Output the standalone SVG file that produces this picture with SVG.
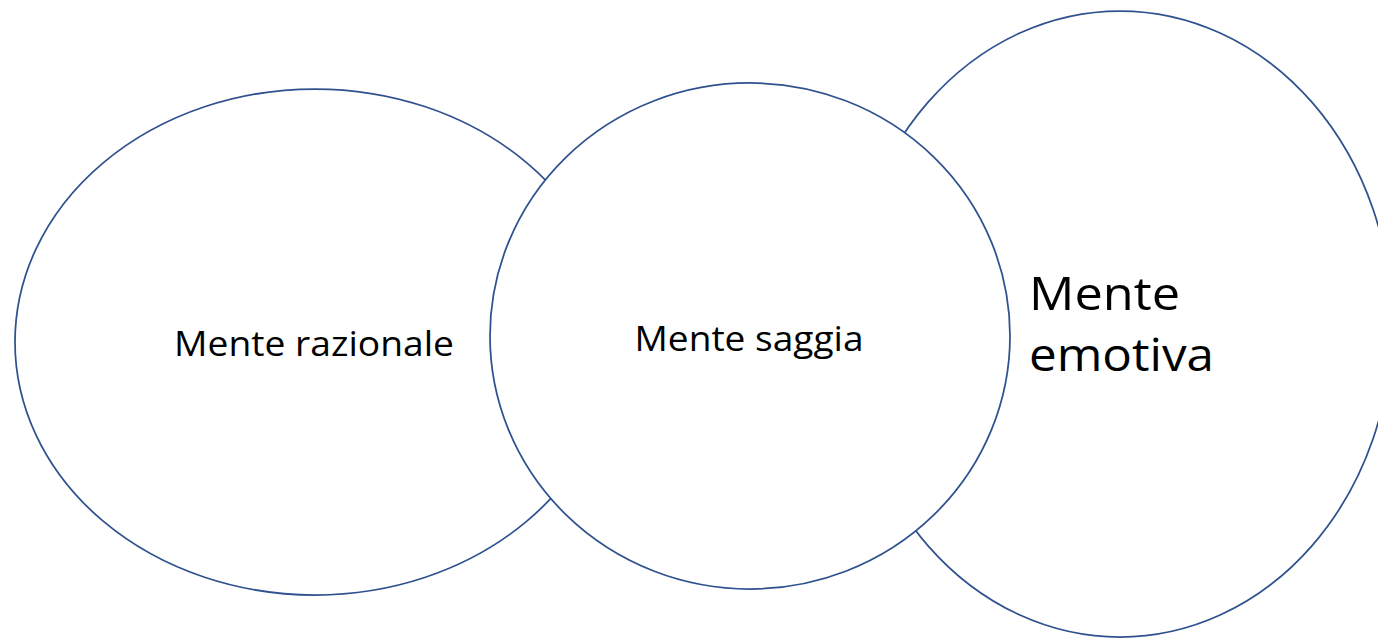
<svg xmlns="http://www.w3.org/2000/svg" width="1378" height="638" viewBox="0 0 1378 638">
  <style>
    .shape { fill: #ffffff; stroke: #2F528F; stroke-width: 1.75; }
    .label { font-family: "Open Sans", "Noto Sans", "Liberation Sans", sans-serif; fill: #000000; }
    .s35 { font-size: 35px; }
    .s46 { font-size: 46.5px; }
  </style>
  <rect x="0" y="0" width="1378" height="638" fill="#ffffff"/>
  <g id="connectors"></g>
  <g id="mente-razionale">
    <ellipse class="shape" cx="315" cy="342" rx="300" ry="253"/>
    <text class="label s35" x="174" y="355.7" textLength="280" lengthAdjust="spacingAndGlyphs">Mente razionale</text>
  </g>
  <g id="mente-emotiva">
    <ellipse class="shape" cx="1120" cy="324" rx="272" ry="313"/>
    <text class="label s46" x="1029" y="310" textLength="151" lengthAdjust="spacingAndGlyphs">Mente</text>
    <text class="label s46" x="1029" y="370.7" textLength="185" lengthAdjust="spacingAndGlyphs">emotiva</text>
  </g>
  <g id="mente-saggia">
    <ellipse class="shape" cx="750" cy="336" rx="260" ry="253"/>
    <text class="label s35" x="634.5" y="350.7" textLength="229" lengthAdjust="spacingAndGlyphs">Mente saggia</text>
  </g>
</svg>
